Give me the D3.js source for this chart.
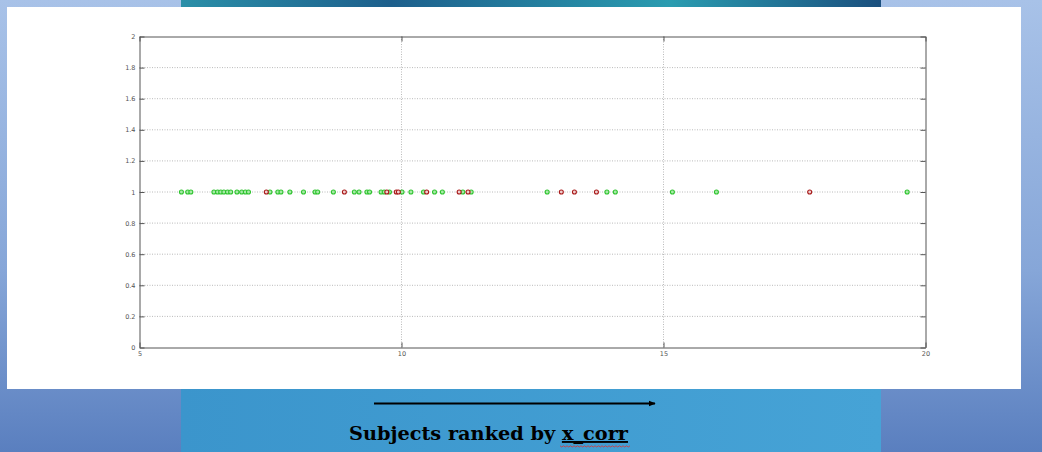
<!DOCTYPE html>
<html>
<head>
<meta charset="utf-8">
<script src="https://cdn.jsdelivr.net/npm/d3@7"></script>
<style>
body{margin:0;padding:0;overflow:hidden;}
svg{display:block;}
</style>
</head>
<body>
<svg id="chart" width="1042" height="452"></svg>
<script>
// ---- data ----
const greenX = [5.80, 5.92, 5.98, 6.42, 6.49, 6.55, 6.61, 6.68, 6.74, 6.86, 6.95, 7.02, 7.08,
  7.49, 7.64, 7.70, 7.87, 8.13, 8.35, 8.40, 8.70, 9.10, 9.19, 9.34, 9.39, 9.61, 9.67, 9.77,
  10.01, 10.18, 10.42, 10.63, 10.78, 11.17, 11.33, 12.78, 13.92, 14.08, 15.17, 16.01, 19.65];
const redX = [7.42, 8.91, 9.72, 9.90, 9.94, 10.48, 11.10, 11.27, 13.05, 13.30, 13.72, 17.79];
const pointY = 1;
const xTicks = [5, 10, 15, 20];
const yTicks = [0, 0.2, 0.4, 0.6, 0.8, 1, 1.2, 1.4, 1.6, 1.8, 2];
const captionText = "Subjects ranked by ";
const captionVar = "x_corr";

// ---- layout ----
const svg = d3.select("#chart");
const W = 1042, H = 452;
const defs = svg.append("defs");

const bg = defs.append("linearGradient").attr("id","bg").attr("x1",0).attr("y1",0).attr("x2",0).attr("y2",1);
bg.append("stop").attr("offset","0%").attr("stop-color","#a8c2e8");
bg.append("stop").attr("offset","60%").attr("stop-color","#86a6d8");
bg.append("stop").attr("offset","100%").attr("stop-color","#5a7fbf");
svg.append("rect").attr("width",W).attr("height",H).attr("fill","url(#bg)");

const ban = defs.append("linearGradient").attr("id","ban").attr("x1",0).attr("y1",0).attr("x2",1).attr("y2",0);
ban.append("stop").attr("offset","0%").attr("stop-color","#2a8fa8");
ban.append("stop").attr("offset","30%").attr("stop-color","#1d5f8c");
ban.append("stop").attr("offset","70%").attr("stop-color","#2a9cb0");
ban.append("stop").attr("offset","100%").attr("stop-color","#1a4f7e");
svg.append("rect").attr("x",181).attr("y",0).attr("width",700).attr("height",8).attr("fill","url(#ban)");

const bot = defs.append("linearGradient").attr("id","bot").attr("x1",0).attr("y1",0).attr("x2",1).attr("y2",0);
bot.append("stop").attr("offset","0%").attr("stop-color","#3b95cc");
bot.append("stop").attr("offset","100%").attr("stop-color","#46a3d6");
svg.append("rect").attr("x",181).attr("y",389).attr("width",700).attr("height",63).attr("fill","url(#bot)");

// white panel
svg.append("rect").attr("x",7).attr("y",7).attr("width",1014).attr("height",382).attr("fill","#ffffff");

// ---- chart ----
const x = d3.scaleLinear().domain([5,20]).range([139.5,925.5]);
const y = d3.scaleLinear().domain([0,2]).range([347.5,36.5]);
const g = svg.append("g");

// grid
g.append("g").selectAll("line").data(yTicks.filter(d=>d>0 && d<2)).join("line")
  .attr("x1",x(5)).attr("x2",x(20)).attr("y1",d=>y(d)).attr("y2",d=>y(d))
  .attr("stroke","#a8a8a8").attr("stroke-width",0.8).attr("stroke-dasharray","1,1.5");
g.append("g").selectAll("line").data(xTicks.filter(d=>d>5 && d<20)).join("line")
  .attr("x1",d=>x(d)).attr("x2",d=>x(d)).attr("y1",y(0)).attr("y2",y(2))
  .attr("stroke","#a8a8a8").attr("stroke-width",0.8).attr("stroke-dasharray","1,1.5");

// axes (MATLAB box style, inward ticks)
const axStyle = sel => {
  sel.select(".domain").attr("stroke","#555").attr("stroke-width",1);
  sel.selectAll(".tick line").attr("stroke","#555");
  sel.selectAll(".tick text").attr("fill","#555").style("font-family","DejaVu Sans, sans-serif").style("font-size","6.5px");
};
g.append("g").attr("transform",`translate(0,${y(0)})`)
  .call(d3.axisBottom(x).tickValues(xTicks).tickFormat(d3.format("d")).tickSizeInner(-5).tickSizeOuter(0).tickPadding(4))
  .call(axStyle);
g.append("g").attr("transform",`translate(0,${y(2)})`)
  .call(d3.axisTop(x).tickValues(xTicks).tickFormat("").tickSizeInner(-5).tickSizeOuter(0))
  .call(axStyle);
g.append("g").attr("transform",`translate(${x(5)},0)`)
  .call(d3.axisLeft(y).tickValues(yTicks).tickFormat(d=>String(d)).tickSizeInner(-5).tickSizeOuter(0).tickPadding(4))
  .call(axStyle);
g.append("g").attr("transform",`translate(${x(20)},0)`)
  .call(d3.axisRight(y).tickValues(yTicks).tickFormat("").tickSizeInner(-5).tickSizeOuter(0))
  .call(axStyle);

// points
g.append("g").selectAll("circle").data(greenX).join("circle")
  .attr("cx",d=>x(d)).attr("cy",y(pointY)).attr("r",2)
  .attr("fill","#a8eaa8").attr("stroke","#2fc42f").attr("stroke-width",1.1);
g.append("g").selectAll("circle").data(redX).join("circle")
  .attr("cx",d=>x(d)).attr("cy",y(pointY)).attr("r",2)
  .attr("fill","#f0d0d0").attr("stroke","#a81818").attr("stroke-width",1.1);

// ---- caption ----
defs.append("marker").attr("id","arr").attr("viewBox","0 0 10 10").attr("refX",9).attr("refY",5)
  .attr("markerWidth",7).attr("markerHeight",7).attr("orient","auto").attr("markerUnits","userSpaceOnUse")
  .append("path").attr("d","M0,1 L10,5 L0,9 Z").attr("fill","#000");
svg.append("line").attr("x1",374).attr("x2",655).attr("y1",403.5).attr("y2",403.5)
  .attr("stroke","#000").attr("stroke-width",2).attr("marker-end","url(#arr)");

const cap = svg.append("text").attr("x",349).attr("y",440)
  .style("font-family","'DejaVu Serif', serif").style("font-weight","bold").style("font-size","19px").attr("fill","#000")
  .attr("textLength",279).attr("lengthAdjust","spacingAndGlyphs");
cap.append("tspan").text(captionText);
cap.append("tspan").attr("text-decoration","underline").text(captionVar);
// spell-check squiggle under the variable name
const sq = [];
for (let i=0;i<=40;i++){ sq.push([560+i*1.75, 446 + (i%2?1:-0.2)]); }
svg.append("path").attr("d",d3.line()(sq)).attr("fill","none").attr("stroke","#d33").attr("stroke-width",0.8);
</script>
</body>
</html>
